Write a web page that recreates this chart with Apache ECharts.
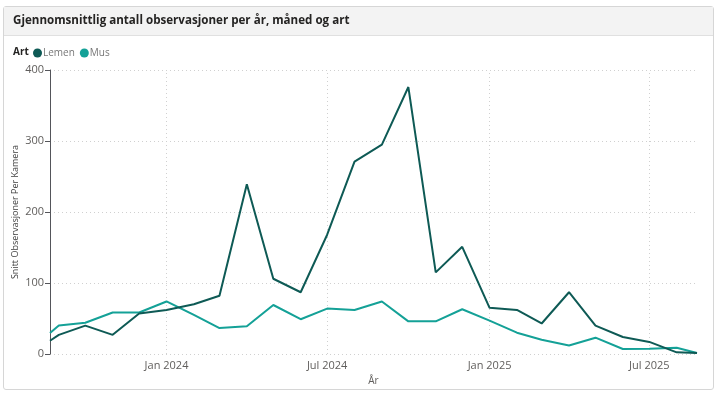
<!DOCTYPE html>
<html>
<head>
<meta charset="utf-8">
<script src="https://cdn.jsdelivr.net/npm/echarts@6/dist/echarts.min.js"></script>
<style>
html,body{margin:0;padding:0;background:#fff;width:720px;height:396px;overflow:hidden;}
#card{position:absolute;left:3px;top:6px;width:709px;height:382px;border:1px solid #d6d6d6;border-radius:3px;background:#fff;}
#bar{position:absolute;left:0;top:0;width:709px;height:28px;background:#f3f3f3;border-bottom:1px solid #e0e0e0;}
#chart{position:absolute;left:0;top:0;width:720px;height:396px;}
</style>
</head>
<body>
<div id="card"><div id="bar"></div></div>
<div id="chart"></div>
<script>
const dates = ['2023-08-22','2023-09-01','2023-10-01','2023-11-01','2023-12-01',
  '2024-01-01','2024-02-01','2024-03-01','2024-04-01','2024-05-01','2024-06-01',
  '2024-07-01','2024-08-01','2024-09-01','2024-10-01','2024-11-01','2024-12-01',
  '2025-01-01','2025-02-01','2025-03-01','2025-04-01','2025-05-01','2025-06-01',
  '2025-07-01','2025-08-01','2025-08-24'];
const lemen = [18.6,27,40,27,57,62,70,82,239,106,87,168,271,295,376,115,151,65,62,43,87,40,24,17,2.3,1.4];
const mus = [29.5,40,44,58.5,58.5,74,55,36.5,39,69,49,64,62,74,46,46,63,47,30,20,12,23,7,7.4,8.8,1.4];
const tickDates = ['2024-01-01','2024-07-01','2025-01-01','2025-07-01'];
const monthNames = ['Jan','Feb','Mar','Apr','Mai','Jun','Jul','Aug','Sep','Okt','Nov','Des'];

function ts(s){const p=s.split('-').map(Number);return Date.UTC(p[0],p[1]-1,p[2]);}
const xs = dates.map(ts);
const ticks = tickDates.map(ts);

const chart = echarts.init(document.getElementById('chart'));
const font = '"Open Sans", sans-serif';
const gridStyle = {type:[1,3],color:'#d0d0d0',width:1};
chart.setOption({
  animation:false,
  textStyle:{fontFamily:font},
  title:{text:'Gjennomsnittlig antall observasjoner per år, måned og art',left:13,top:15,padding:0,
    textStyle:{fontSize:11.6,fontWeight:'bold',color:'#252423',fontFamily:font}},
  graphic:[{type:'text',left:13,top:47,style:{text:'Art',font:'bold 10px "Open Sans", sans-serif',fill:'#252423'}}],
  legend:{left:33,top:48,padding:0,icon:'circle',itemWidth:9,itemHeight:9,itemGap:5,
    textStyle:{fontSize:10,color:'#777',padding:[0,0,0,-4]},data:['Lemen','Mus']},
  color:['#0E5A55','#14A197'],
  grid:{left:50,right:23,top:70,bottom:42},
  xAxis:{type:'value',min:xs[0],max:xs[xs.length-1],
    name:'År',nameLocation:'middle',nameGap:19,nameTextStyle:{fontSize:10,color:'#605e5c'},
    axisLine:{show:false},
    axisTick:{show:false,customValues:ticks},
    axisLabel:{customValues:ticks,color:'#605e5c',fontSize:11,margin:6,
      formatter:v=>{const d=new Date(v);return monthNames[d.getUTCMonth()]+' '+d.getUTCFullYear();}},
    splitLine:{show:false}},
  yAxis:{type:'value',min:0,max:400,interval:100,
    name:'Snitt Observasjoner Per Kamera',nameLocation:'middle',nameGap:30,nameMoveOverlap:false,
    nameTextStyle:{fontSize:9,color:'#404040'},
    axisLabel:{color:'#605e5c',fontSize:11,margin:6},
    splitLine:{lineStyle:gridStyle}},
  series:[
    {name:'Lemen',type:'line',showSymbol:false,symbol:'none',lineStyle:{width:2},z:3,
      data:xs.map((x,i)=>[x,lemen[i]]),
      markLine:{silent:true,symbol:'none',label:{show:false},lineStyle:gridStyle,z:1,
        data:ticks.map(t=>({xAxis:t}))}},
    {name:'Mus',type:'line',showSymbol:false,symbol:'none',lineStyle:{width:2},z:2,
      data:xs.map((x,i)=>[x,mus[i]])}
  ]
});
</script>
</body>
</html>
